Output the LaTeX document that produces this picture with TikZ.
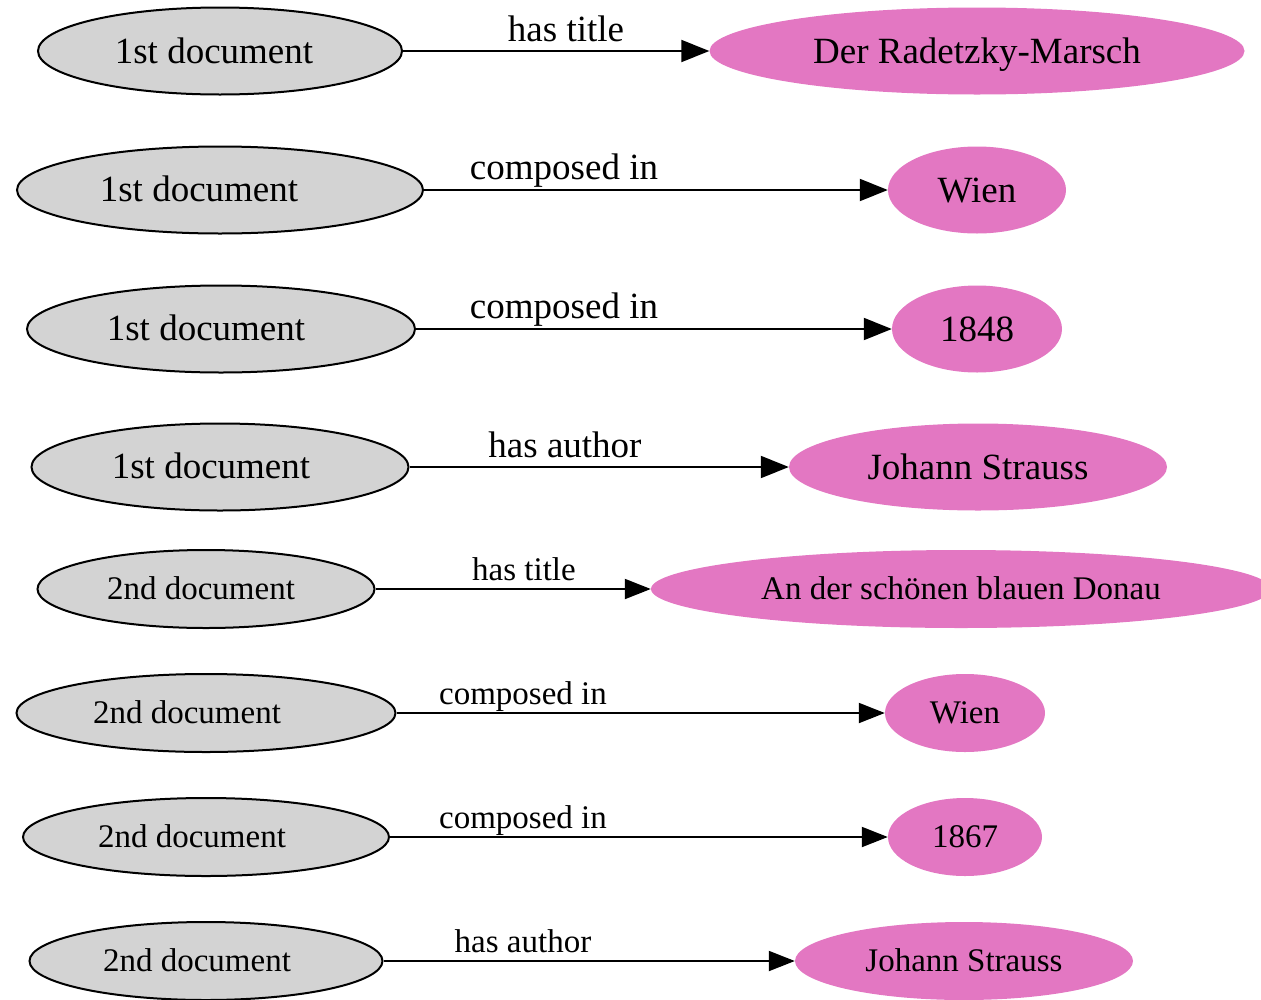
\documentclass[tikz,border=0pt]{standalone}
\usepackage{fontspec}
\setmainfont{Liberation Serif}
\usetikzlibrary{shapes.geometric,arrows.meta}
\definecolor{docgray}{HTML}{D3D3D3}
\definecolor{valpink}{HTML}{E377C2}
\tikzset{
  big/.style={font=\fontsize{37}{40}\selectfont},
  small/.style={font=\fontsize{33}{36}\selectfont},
  doc/.style={ellipse, draw=black, line width=2pt, fill=docgray, inner sep=0pt},
  val/.style={ellipse, fill=valpink, inner sep=0pt},
  valbig/.style={val, big, text height=24pt, text depth=0pt},
  valsmall/.style={val, small, text height=20pt, text depth=0pt},
  rel/.style={draw=black, line width=2pt, -{Triangle[length=28pt,width=22pt]}},
  relsmall/.style={draw=black, line width=2pt, -{Triangle[length=26pt,width=20pt]}},
  lbl/.style={inner sep=0pt, anchor=base},
}
\begin{document}
\begin{tikzpicture}[x=1pt,y=-1pt]
\useasboundingbox (0,0) rectangle (1261,999);
\clip (0,0) rectangle (1261,999);
% row 1
\node[doc,minimum width=364pt,minimum height=87pt] (d1) at (220,51) {};
\node[lbl,big] (t1) at (214,63) {1st document};
\node[valbig,minimum width=535pt,minimum height=87pt] (v1) at (977,51) {Der Radetzky-Marsch};
\draw[rel] (d1) -- (v1);
\node[lbl,big] (e1) at (566,41) {has title};
% row 2
\node[doc,minimum width=406pt,minimum height=87pt] (d2) at (220,190) {};
\node[lbl,big] (t2) at (199,201) {1st document};
\node[valbig,minimum width=178pt,minimum height=87pt] (v2) at (977,190) {Wien};
\draw[rel] (d2) -- (v2);
\node[lbl,big] (e2) at (564,179) {composed in};
% row 3
\node[doc,minimum width=388pt,minimum height=87pt] (d3) at (221,329) {};
\node[lbl,big] (t3) at (206,340) {1st document};
\node[valbig,minimum width=170pt,minimum height=87pt] (v3) at (977,329) {1848};
\draw[rel] (d3) -- (v3);
\node[lbl,big] (e3) at (564,318) {composed in};
% row 4
\node[doc,minimum width=377pt,minimum height=87pt] (d4) at (220,467) {};
\node[lbl,big] (t4) at (211,478) {1st document};
\node[valbig,minimum width=378pt,minimum height=87pt] (v4) at (978,467) {Johann Strauss};
\draw[rel] (d4) -- (v4);
\node[lbl,big] (e4) at (565,457) {has author};
% row 5
\node[doc,minimum width=337pt,minimum height=78pt] (d5) at (206,589) {};
\node[lbl,small] (t5) at (201,599) {2nd document};
\node[valsmall,minimum width=620pt,minimum height=78pt] (v5) at (961,589) {An der schönen blauen Donau};
\draw[relsmall] (d5) -- (v5);
\node[lbl,small] (e5) at (524,580) {has title};
% row 6
\node[doc,minimum width=379pt,minimum height=78pt] (d6) at (206,713) {};
\node[lbl,small] (t6) at (187,723) {2nd document};
\node[valsmall,minimum width=160pt,minimum height=78pt] (v6) at (965,713) {Wien};
\draw[relsmall] (d6) -- (v6);
\node[lbl,small] (e6) at (523,704) {composed in};
% row 7
\node[doc,minimum width=366pt,minimum height=78pt] (d7) at (206,837) {};
\node[lbl,small] (t7) at (192,847) {2nd document};
\node[valsmall,minimum width=154pt,minimum height=78pt] (v7) at (965,837) {1867};
\draw[relsmall] (d7) -- (v7);
\node[lbl,small] (e7) at (523,828) {composed in};
% row 8
\node[doc,minimum width=353pt,minimum height=78pt] (d8) at (206,961) {};
\node[lbl,small] (t8) at (197,971) {2nd document};
\node[valsmall,minimum width=338pt,minimum height=78pt] (v8) at (964,961) {Johann Strauss};
\draw[relsmall] (d8) -- (v8);
\node[lbl,small] (e8) at (523,952) {has author};
\end{tikzpicture}
\end{document}
